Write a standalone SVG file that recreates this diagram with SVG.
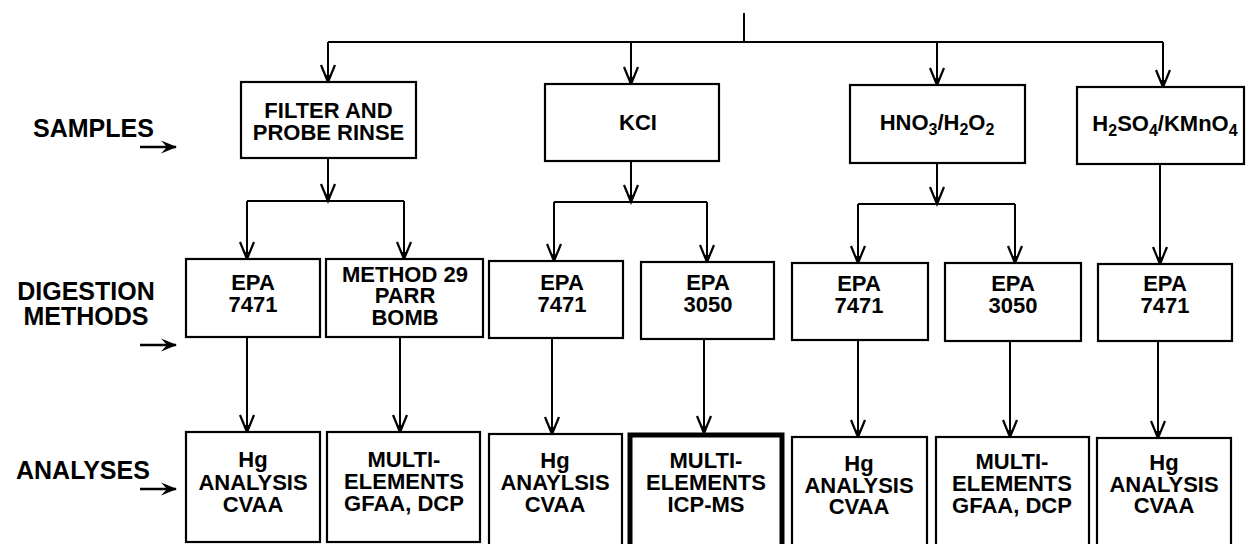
<svg xmlns="http://www.w3.org/2000/svg" width="1246" height="544" viewBox="0 0 1246 544">
<style>
text{font-family:"Liberation Sans",Arial,sans-serif;font-weight:bold;fill:#000}
.lab{font-size:25px}
.bt{font-size:22px;text-anchor:middle}
.box{fill:#fff;stroke:#000;stroke-width:2.2}
.thick{fill:#fff;stroke:#000;stroke-width:5}
.ln{fill:none;stroke:#000;stroke-width:2}
.arr{fill:none;stroke:#000;stroke-width:2;marker-end:url(#ah)}
.larr{fill:none;stroke:#000;stroke-width:2.6;marker-end:url(#lh)}
.sub{font-size:16px}
</style>
<defs>
<marker id="ah" markerUnits="userSpaceOnUse" markerWidth="1" markerHeight="1" refX="0" refY="0" orient="auto" overflow="visible">
<path d="M-17,-7 L0,0 L-17,7" fill="none" stroke="#000" stroke-width="2.2"/>
<path d="M1,0 L-7,-3 L-7,3 Z" fill="#000"/>
</marker>
<marker id="lh" markerUnits="userSpaceOnUse" markerWidth="1" markerHeight="1" refX="0" refY="0" orient="auto" overflow="visible">
<path d="M1,0 L-15,-6.5 L-9,0 L-15,6.5 Z" fill="#000"/>
</marker>
</defs>

<g id="labels">
<text class="lab" x="33" y="137">SAMPLES</text>
<path class="larr" d="M140,147 H176"/>
<text class="lab" x="86" y="300" text-anchor="middle">DIGESTION</text>
<text class="lab" x="86" y="325" text-anchor="middle">METHODS</text>
<path class="larr" d="M140,345 H176"/>
<text class="lab" x="16" y="479">ANALYSES</text>
<path class="larr" d="M140,489 H176"/>
</g>

<g id="connectors">
<path class="ln" d="M744,13 V42"/>
<path class="ln" d="M328,42 H1163"/>
<path class="arr" d="M328,42 V82"/>
<path class="arr" d="M631,42 V84"/>
<path class="arr" d="M937,42 V85"/>
<path class="arr" d="M1163,42 V87"/>

<path class="arr" d="M328,158 V201"/>
<path class="ln" d="M247,201 H404"/>
<path class="arr" d="M247,201 V259"/>
<path class="arr" d="M404,201 V259"/>

<path class="arr" d="M631,161 V202"/>
<path class="ln" d="M554,202 H707"/>
<path class="arr" d="M554,202 V261"/>
<path class="arr" d="M707,202 V262"/>

<path class="arr" d="M937,163 V204"/>
<path class="ln" d="M858,204 H1015"/>
<path class="arr" d="M858,204 V263"/>
<path class="arr" d="M1015,204 V263"/>

<path class="arr" d="M1160,164 V264"/>

<path class="arr" d="M247,337 V432"/>
<path class="arr" d="M400,337 V432"/>
<path class="arr" d="M552,338 V434"/>
<path class="arr" d="M704,339 V433"/>
<path class="arr" d="M858,340 V437"/>
<path class="arr" d="M1010,341 V437"/>
<path class="arr" d="M1158,341 V438"/>
</g>

<g id="s1"><rect class="box" x="241" y="82" width="175" height="76"/>
<text class="bt" x="328.5" y="117.5">FILTER AND</text><text class="bt" x="328.5" y="140">PROBE RINSE</text></g>
<g id="s2"><rect class="box" x="545" y="84" width="174" height="77"/>
<text class="bt" x="638" y="130">KCI</text></g>
<g id="s3"><rect class="box" x="850" y="85" width="175" height="78"/>
<text class="bt" x="937" y="130">HNO<tspan class="sub" dy="5">3</tspan><tspan dy="-5">/H</tspan><tspan class="sub" dy="5">2</tspan><tspan dy="-5">O</tspan><tspan class="sub" dy="5">2</tspan></text></g>
<g id="s4"><rect class="box" x="1077" y="87" width="167" height="77"/>
<text class="bt" x="1165" y="131">H<tspan class="sub" dy="5">2</tspan><tspan dy="-5">SO</tspan><tspan class="sub" dy="5">4</tspan><tspan dy="-5">/KMnO</tspan><tspan class="sub" dy="5">4</tspan></text></g>

<g id="d1"><rect class="box" x="186" y="259" width="134" height="78"/>
<text class="bt" x="253" y="290">EPA</text><text class="bt" x="253" y="312">7471</text></g>
<g id="d2"><rect class="box" x="326" y="259" width="157" height="78"/>
<text class="bt" x="405" y="281.5">METHOD 29</text><text class="bt" x="405" y="303">PARR</text><text class="bt" x="405" y="324.5">BOMB</text></g>
<g id="d3"><rect class="box" x="489" y="261" width="134" height="77"/>
<text class="bt" x="562" y="290">EPA</text><text class="bt" x="562" y="312">7471</text></g>
<g id="d4"><rect class="box" x="641" y="262" width="133" height="77"/>
<text class="bt" x="708" y="290">EPA</text><text class="bt" x="708" y="312">3050</text></g>
<g id="d5"><rect class="box" x="792" y="263" width="136" height="77"/>
<text class="bt" x="859" y="291">EPA</text><text class="bt" x="859" y="313">7471</text></g>
<g id="d6"><rect class="box" x="945" y="263" width="136" height="78"/>
<text class="bt" x="1013" y="291">EPA</text><text class="bt" x="1013" y="313">3050</text></g>
<g id="d7"><rect class="box" x="1098" y="264" width="134" height="77"/>
<text class="bt" x="1165" y="291">EPA</text><text class="bt" x="1165" y="313">7471</text></g>

<g id="a1"><rect class="box" x="186" y="432" width="134" height="110"/>
<text class="bt" x="253" y="467">Hg</text><text class="bt" x="253" y="490">ANALYSIS</text><text class="bt" x="253" y="511.5">CVAA</text></g>
<g id="a2"><rect class="box" x="327" y="432" width="153" height="110"/>
<text class="bt" x="404" y="467">MULTI-</text><text class="bt" x="404" y="489">ELEMENTS</text><text class="bt" x="404" y="511">GFAA, DCP</text></g>
<g id="a3"><rect class="box" x="489" y="434" width="133" height="120"/>
<text class="bt" x="555" y="468">Hg</text><text class="bt" x="555" y="490">ANAYLSIS</text><text class="bt" x="555" y="512">CVAA</text></g>
<g id="a4"><rect class="thick" x="630" y="435" width="152" height="120"/>
<text class="bt" x="706" y="468">MULTI-</text><text class="bt" x="706" y="490">ELEMENTS</text><text class="bt" x="706" y="512">ICP-MS</text></g>
<g id="a5"><rect class="box" x="792" y="437" width="135" height="120"/>
<text class="bt" x="859" y="471">Hg</text><text class="bt" x="859" y="493">ANALYSIS</text><text class="bt" x="859" y="514">CVAA</text></g>
<g id="a6"><rect class="box" x="936" y="437" width="153" height="120"/>
<text class="bt" x="1012" y="469">MULTI-</text><text class="bt" x="1012" y="491">ELEMENTS</text><text class="bt" x="1012" y="513">GFAA, DCP</text></g>
<g id="a7"><rect class="box" x="1097" y="438" width="134" height="120"/>
<text class="bt" x="1164" y="470">Hg</text><text class="bt" x="1164" y="492">ANALYSIS</text><text class="bt" x="1164" y="513">CVAA</text></g>
</svg>
